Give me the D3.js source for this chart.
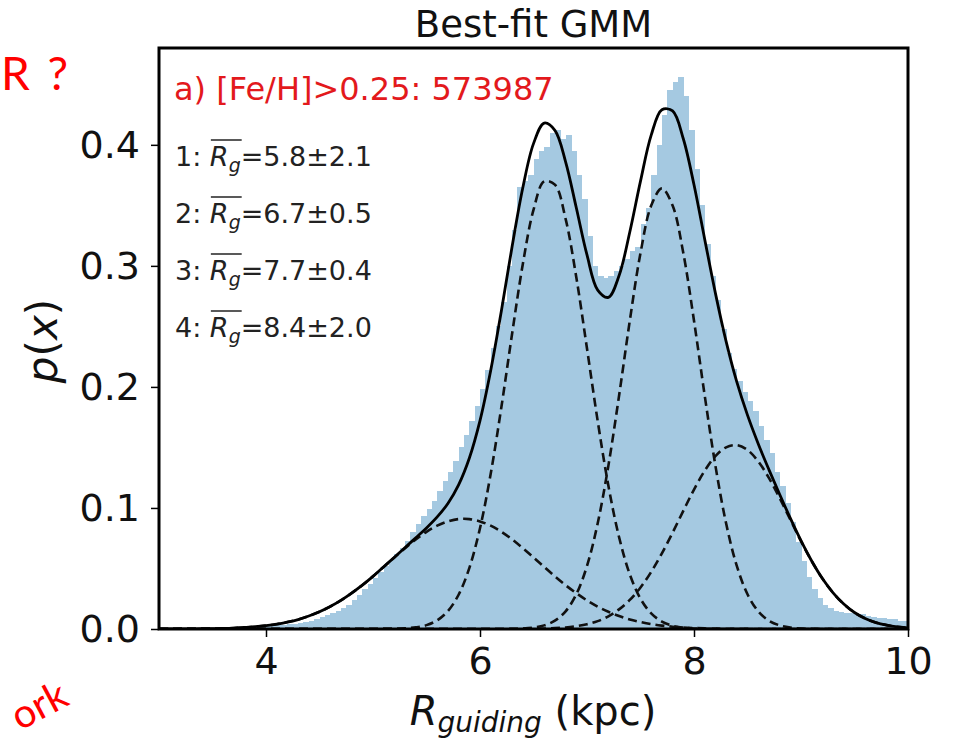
<!DOCTYPE html>
<html><head><meta charset="utf-8">
<script src="https://cdn.jsdelivr.net/npm/d3@7"></script>
<style>body{margin:0;background:#fff}svg{display:block}</style>
</head><body>
<svg id="c" width="959" height="742"></svg>
<script>
// ---------- data ----------
const xTicks = [4, 6, 8, 10];
const yTicks = [0.0, 0.1, 0.2, 0.3, 0.4];
const histStart = 3.0;
const histBinWidth = 0.05;
const histValues = [
  0.0005,0.0005,0.0006,0.0006,0.0007,0.0007,0.0008,0.0008,0.0009,0.0010,
  0.0011,0.0012,0.0013,0.0014,0.0015,0.0016,0.0018,0.0020,0.0022,0.0024,
  0.0026,0.0029,0.0032,0.0036,0.0040,0.0045,0.0052,0.0060,0.0070,0.0082,
  0.0096,0.0112,0.013,0.015,0.017,0.020,0.024,0.028,0.033,0.037,
  0.042,0.047,0.052,0.057,0.062,0.067,0.073,0.080,0.087,0.093,
  0.099,0.106,0.114,0.122,0.130,0.139,0.150,0.160,0.172,0.184,
  0.198,0.214,0.232,0.250,0.270,0.300,0.330,0.365,0.370,0.375,
  0.388,0.395,0.398,0.410,0.412,0.405,0.408,0.395,0.375,0.355,
  0.325,0.300,0.292,0.290,0.292,0.296,0.300,0.306,0.312,0.316,
  0.335,0.348,0.375,0.400,0.425,0.445,0.452,0.456,0.440,0.412,
  0.380,0.350,0.318,0.292,0.272,0.248,0.228,0.215,0.205,0.196,
  0.188,0.180,0.168,0.156,0.145,0.130,0.118,0.104,0.088,0.072,
  0.056,0.043,0.033,0.026,0.020,0.017,0.015,0.014,0.013,0.013,
  0.012,0.012,0.011,0.010,0.009,0.009,0.008,0.008,0.007,0.007
];
// curve samples at x = 3.0, 3.1, ... 10.0
const curveX = d3.range(71).map(i => +(3 + i * 0.1).toFixed(1));
const comp1 = [
  0.0000,0.0000,0.0001,0.0001,0.0002,0.0003,0.0005,0.0008,0.0013,0.0019,
  0.0028,0.0040,0.0057,0.0078,0.0107,0.0142,0.0185,0.0236,0.0296,0.0362,
  0.0435,0.0513,0.0591,0.0668,0.0740,0.0803,0.0854,0.0889,0.0908,0.0908,
  0.0889,0.0854,0.0803,0.0740,0.0668,0.0591,0.0513,0.0435,0.0362,0.0296,
  0.0236,0.0185,0.0142,0.0107,0.0078,0.0057,0.0040,0.0028,0.0019,0.0013,
  0.0008,0.0005,0.0003,0.0002,0.0001,0.0001,0,0,0,0,
  0,0,0,0,0,0,0,0,0,0,0
];
const comp2 = [
  0,0,0,0,0,0,0,0,0,0,
  0,0,0,0,0,0,0,0,0,0,
  0.0000,0.0001,0.0002,0.0005,0.0014,0.0032,0.0072,0.0148,0.0283,0.0503,
  0.0833,0.1282,0.1834,0.2439,0.3014,0.3463,0.3698,0.3671,0.3388,0.2906,
  0.2317,0.1718,0.1183,0.0758,0.0451,0.0250,0.0129,0.0061,0.0027,0.0011,
  0.0004,0.0002,0.0001,0,0,0,0,0,0,0,
  0,0,0,0,0,0,0,0,0,0,0
];
const comp3 = [
  0,0,0,0,0,0,0,0,0,0,
  0,0,0,0,0,0,0,0,0,0,
  0,0,0,0,0,0,0,0,0,0,
  0,0,0,0.0001,0.0004,0.0012,0.0030,0.0069,0.0146,0.0287,
  0.0521,0.0873,0.1350,0.1929,0.2547,0.3106,0.3498,0.3640,0.3498,0.3106,
  0.2547,0.1929,0.1350,0.0873,0.0521,0.0287,0.0146,0.0069,0.0030,0.0012,
  0.0004,0.0001,0,0,0,0,0,0,0,0,0
];
const comp4 = [
  0,0,0,0,0,0,0,0,0,0,
  0,0,0,0,0,0,0,0,0,0,
  0,0,0,0,0,0,0,0,0,0,
  0,0,0,0,0.0001,0.0002,0.0003,0.0007,0.0013,0.0023,
  0.0039,0.0065,0.0105,0.0162,0.0240,0.0343,0.0472,0.0625,0.0796,0.0976,
  0.1152,0.1307,0.1428,0.1501,0.1519,0.1479,0.1385,0.1248,0.1083,0.0904,
  0.0726,0.0561,0.0417,0.0299,0.0206,0.0136,0.0087,0.0053,0.0032,0.0018,0.0010
];
const totalFit = [
  0.0000,0.0000,0.0001,0.0001,0.0002,0.0003,0.0005,0.0008,0.0013,0.0019,
  0.0028,0.0040,0.0057,0.0078,0.0107,0.0142,0.0185,0.0236,0.0296,0.0362,
  0.0435,0.0514,0.0593,0.0673,0.0754,0.0835,0.0926,0.1037,0.1191,0.1411,
  0.1722,0.2136,0.2630,0.3160,0.3645,0.4010,0.4180,0.4120,0.3860,0.3480,
  0.3090,0.2800,0.2740,0.2920,0.3280,0.3700,0.4080,0.4290,0.4280,0.4050,
  0.3670,0.3220,0.2775,0.2376,0.2041,0.1767,0.1531,0.1317,0.1113,0.0916,
  0.0730,0.0562,0.0417,0.0299,0.0206,0.0136,0.0087,0.0053,0.0032,0.0018,0.0010
];
const compLabels = ["1", "2", "3", "4"];
const compValues = ["5.8±2.1", "6.7±0.5", "7.7±0.4", "8.4±2.0"];
const titleText = "Best-fit GMM";
const sampleText = "a) [Fe/H]>0.25: 573987";

// ---------- layout ----------
const svg = d3.select("#c");
const L = 159, R = 908, T = 48, B = 629;
const x = d3.scaleLinear().domain([3, 10]).range([L, R]);
const y = d3.scaleLinear().domain([0, 0.48]).range([B, T]);
const FONT = "'DejaVu Sans', sans-serif";

// histogram
const bins = histValues.map((v, i) => ({x0: histStart + i * histBinWidth, x1: histStart + (i + 1) * histBinWidth, v}));
svg.append("g").selectAll("rect").data(bins).join("rect")
  .attr("x", d => x(d.x0))
  .attr("width", d => x(d.x1) - x(d.x0) + 0.6)
  .attr("y", d => y(d.v))
  .attr("height", d => y(0) - y(d.v))
  .attr("fill", "#a5c9e1")
  .attr("shape-rendering", "crispEdges");

// curves
const line = d3.line().x((d, i) => x(curveX[i])).y(d => y(d)).curve(d3.curveCatmullRom.alpha(0.5));
svg.append("clipPath").attr("id", "pc").append("rect").attr("x", L).attr("y", T).attr("width", R - L).attr("height", B - T);
const cg = svg.append("g").attr("clip-path", "url(#pc)");
[comp1, comp2, comp3, comp4].forEach(c => {
  cg.append("path").attr("d", line(c)).attr("fill", "none")
    .attr("stroke", "#111").attr("stroke-width", 2.6).attr("stroke-dasharray", "9,5");
});
cg.append("path").attr("d", line(totalFit)).attr("fill", "none")
  .attr("stroke", "#000").attr("stroke-width", 2.8);

// axes
const xAxis = d3.axisBottom(x).tickValues(xTicks).tickSize(8).tickPadding(10).tickFormat(d3.format("d"));
const gx = svg.append("g").attr("transform", `translate(0,${B})`).call(xAxis);
const yAxis = d3.axisLeft(y).tickValues(yTicks).tickSize(8).tickPadding(11).tickFormat(d3.format(".1f"));
const gy = svg.append("g").attr("transform", `translate(${L},0)`).call(yAxis);
[gx, gy].forEach(g => {
  g.select(".domain").remove();
  g.selectAll(".tick line").attr("stroke", "#000").attr("stroke-width", 1.5);
  g.selectAll(".tick text").attr("fill", "#111").style("font-family", FONT).style("font-size", "38px");
});

// frame
svg.append("rect").attr("x", L).attr("y", T).attr("width", R - L).attr("height", B - T)
  .attr("fill", "none").attr("stroke", "#000").attr("stroke-width", 3);

// title
svg.append("text").attr("x", (L + R) / 2).attr("y", 37).attr("text-anchor", "middle")
  .style("font-family", FONT).style("font-size", "37px").attr("fill", "#111").text(titleText);

// in-plot red text
svg.append("text").attr("x", 174).attr("y", 100)
  .style("font-family", FONT).style("font-size", "32px").attr("fill", "#e3191c").text(sampleText);

// legend-like text lines
compLabels.forEach((lab, i) => {
  const by = 166 + 57 * i;
  const t = svg.append("text").attr("x", 175).attr("y", by)
    .style("font-family", FONT).style("font-size", "27px").attr("fill", "#222");
  t.append("tspan").text(lab + ": ");
  t.append("tspan").attr("font-style", "italic").text("R");
  t.append("tspan").attr("font-style", "italic").attr("font-size", "19px").attr("dy", 6).text("g");
  t.append("tspan").attr("dy", -6).text("=" + compValues[i]);
  const n = (lab + ": ").length;
  const eR = t.node().getExtentOfChar(n);
  const eG = t.node().getExtentOfChar(n + 1);
  svg.append("line").attr("x1", eR.x + 1).attr("x2", eG.x + eG.width + 1)
    .attr("y1", by - 26).attr("y2", by - 26).attr("stroke", "#222").attr("stroke-width", 1.5);
});

// axis labels
const xl = svg.append("text").attr("x", 533).attr("y", 725).attr("text-anchor", "middle")
  .style("font-family", FONT).style("font-size", "40px").attr("fill", "#111");
xl.append("tspan").attr("font-style", "italic").text("R");
xl.append("tspan").attr("font-style", "italic").attr("font-size", "28px").attr("dy", 7).text("guiding");
xl.append("tspan").attr("dy", -7).text(" (kpc)");

const yl = svg.append("text").attr("transform", "translate(57,341) rotate(-90)").attr("text-anchor", "middle")
  .style("font-family", FONT).style("font-size", "42px").attr("fill", "#111");
yl.append("tspan").attr("font-style", "italic").text("p");
yl.append("tspan").text("(");
yl.append("tspan").attr("font-style", "italic").text("x");
yl.append("tspan").text(")");

// slide annotations (red, at the slide edges)
svg.append("text").attr("x", 1).attr("y", 90).attr("word-spacing", "6px")
  .style("font-family", "Lato, 'Open Sans', sans-serif").style("font-size", "46px").attr("fill", "red").text("R ?");
svg.append("text").attr("transform", "translate(20,731) rotate(-28)")
  .style("font-family", "Lato, 'Open Sans', sans-serif").style("font-size", "40px").attr("fill", "red").text("ork");
</script>
</body></html>
